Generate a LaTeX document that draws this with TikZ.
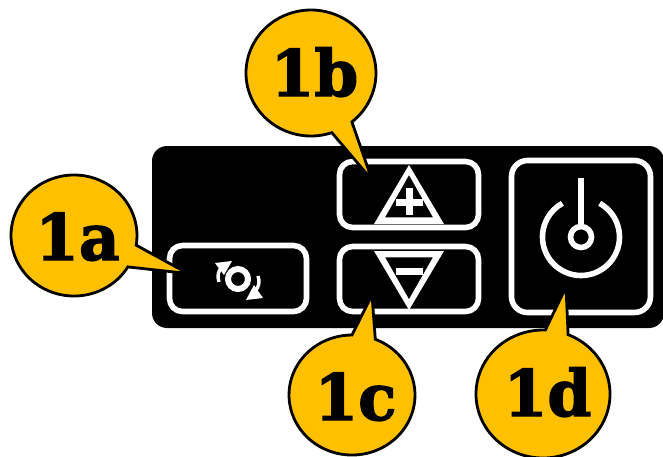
\documentclass[tikz,border=0pt]{standalone}
\usepackage{fontspec}
\newfontfamily\calloutfont[BoldFont={DejaVu Serif Bold},BoldFeatures={FakeStretch=0.98,FakeBold=2.2}]{DejaVu Serif}
\definecolor{calloutfill}{HTML}{FFC000}
\tikzset{
  x=1pt,y=-1pt,
  panel/.style={fill=black},
  keybox/.style={draw=white,line width=5.6pt,rounded corners=13pt},
  glyph/.style={fill=white,draw=none},
  glyphline/.style={draw=white,line width=5.6pt},
  bubble/.style={fill=calloutfill,draw=black,line width=2.8pt,line join=miter,miter limit=30},
  bubbletext/.style={font=\calloutfont\bfseries\fontsize{64}{64}\selectfont,text=black,inner sep=0pt,anchor=base},
}
\newcommand{\mybubble}[8]{%
  \draw[bubble] ({#1+#3*cos(#5)},{#2+#4*sin(#5)})
    arc[start angle=#5,end angle=#6,x radius=#3,y radius=#4] -- (#7,#8) -- cycle;
}
\begin{document}
\begin{tikzpicture}
\path[use as bounding box] (0,0) rectangle (663,456);
\clip (0,0) rectangle (663,456);
\fill[white] (0,0) rectangle (663,456);
% panel
\fill[panel,rounded corners=15pt] (152,146) rectangle (664,328);
% keys
\draw[keybox] (169.5,245.5) rectangle (306.5,311.5);
\draw[keybox] (339.5,161.5) rectangle (478.5,227.5);
\draw[keybox] (339.5,246.5) rectangle (478.5,311.5);
\draw[keybox,rounded corners=16pt] (511.5,160.5) rectangle (650.5,312.5);
% rotate glyph
\draw[glyphline,line width=6pt] (238,279) circle[radius=10];
\fill[glyph] (215,263) -- (232,261) -- (224,275) -- cycle;
\fill[glyph] (263,298) -- (246,300) -- (254,285) -- cycle;
\draw[draw=white,line width=3.4pt] (219,282) .. controls (217,276) and (218,271) .. (222,267);
\draw[draw=white,line width=3.4pt] (258,276) .. controls (260,282) and (259,287) .. (255,291);
% plus glyph
\fill[glyph,even odd rule] (409,165) -- (444,224) -- (374,224) -- cycle
  (409,175) -- (433,217.3) -- (385,217.3) -- cycle;
\fill[glyph] (396,199) rectangle (423,205.5);
\fill[glyph] (406,188) rectangle (412.7,215);
% minus glyph
\fill[glyph,even odd rule] (374,251) -- (444,251) -- (409,310) -- cycle
  (385,257.3) -- (433,257.3) -- (409,299.3) -- cycle;
\fill[glyph] (396,268) rectangle (423,274.7);
% power glyph
\draw[glyphline] (581,237) circle[radius=10.5];
\draw[glyphline] (581,178) -- (581,226);
\draw[glyphline] ({581+38.5*cos(-61)},{237+38.5*sin(-61)}) arc[start angle=-61,end angle=241,radius=38.5];
% callouts
\mybubble{74}{235.5}{63}{60.5}{31.3}{369.2}{188}{273.5}
\mybubble{311}{73}{65}{63}{71.3}{411}{372}{180}
\mybubble{352}{395}{63}{60}{-68.3}{270}{372}{295}
\mybubble{543}{394}{67}{64}{-68}{272}{566}{287}
\node[bubbletext] (la) at (77.5,260) {1a};
\node[bubbletext] (lb) at (314.5,96) {1b};
\node[bubbletext] (lc) at (355.5,420) {1c};
\node[bubbletext] (ld) at (547.5,416) {1d};
\end{tikzpicture}
\end{document}
